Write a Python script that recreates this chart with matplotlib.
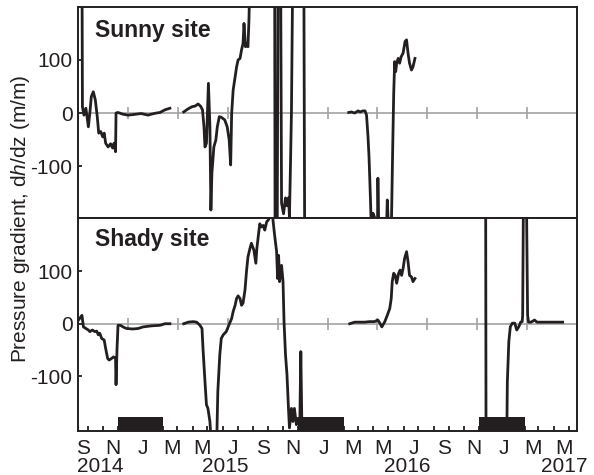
import matplotlib
matplotlib.use("Agg")
import matplotlib.pyplot as plt
import matplotlib.dates as mdates
import matplotlib.ticker as mticker
import matplotlib.transforms as mtransforms
import numpy as np
import pandas as pd

plt.rcParams["font.family"] = ["Liberation Sans", "DejaVu Sans"]
plt.rcParams["axes.unicode_minus"] = False
plt.rcParams["mathtext.fontset"] = "custom"
plt.rcParams["mathtext.rm"] = "Liberation Sans"
plt.rcParams["mathtext.it"] = "Liberation Sans:italic"

# ---------------------------------------------------------------------------
# Data (+/-300 means off scale)
# ---------------------------------------------------------------------------
sunny_2014_dates = ["2014-08-20", "2014-08-21", "2014-08-24", "2014-08-28", "2014-09-02",
                    "2014-09-05", "2014-09-08", "2014-09-12", "2014-09-16", "2014-09-20",
                    "2014-09-23", "2014-09-27", "2014-10-01", "2014-10-04", "2014-10-07",
                    "2014-10-12", "2014-10-17", "2014-10-21", "2014-10-24", "2014-10-27",
                    "2014-10-28", "2014-11-01", "2014-11-10", "2014-11-21", "2014-12-01",
                    "2014-12-18", "2015-01-01", "2015-01-08", "2015-01-18", "2015-01-25",
                    "2015-02-04", "2015-02-14"]
sunny_2014_vals = [300, 12, -4, 9, -26, 0, 31, 40, 25, -7,
                   -38, -35, -45, -38, -57, -64, -58, -66, -57, -73,
                   0, 1, -2, -4, -3, -1, -4, -2, 0, 1,
                   6, 9]

sunny_2015_dates = ["2015-03-14", "2015-03-20", "2015-03-25", "2015-03-31", "2015-04-06",
                    "2015-04-12", "2015-04-17", "2015-04-21", "2015-04-24", "2015-04-26",
                    "2015-04-29", "2015-05-03", "2015-05-06", "2015-05-08", "2015-05-10",
                    "2015-05-14", "2015-05-18", "2015-05-21", "2015-05-25", "2015-05-29",
                    "2015-06-05", "2015-06-10", "2015-06-14", "2015-06-17", "2015-06-19",
                    "2015-06-22", "2015-06-26", "2015-06-29", "2015-07-02", "2015-07-06",
                    "2015-07-09", "2015-07-12", "2015-07-14", "2015-07-17", "2015-07-19",
                    "2015-07-22", "2015-07-24", "2015-07-27", "2015-09-14", "2015-09-15",
                    "2015-09-19", "2015-09-21", "2015-09-26", "2015-09-28", "2015-10-02",
                    "2015-10-06", "2015-10-09", "2015-10-12", "2015-10-14", "2015-10-16",
                    "2015-10-18", "2015-10-19", "2015-10-21", "2015-11-12", "2015-11-14",
                    "2015-11-20"]
sunny_2015_vals = [2, 6, 9, 12, 13, 17, 13, 6, -26, -64,
                   -57, 56, -26, -183, -114, -64, -51, -26, -7, -8,
                   -13, -26, -51, -98, -1, 43, 68, 87, 100, 103,
                   119, 131, 169, 125, 131, 125, 175, 300, 300, -300,
                   -300, 300, 300, -170, -190, -160, -175, -160, -195, -100,
                   0, 100, 300, 300, -300, -300]

sunny_2016_dates = ["2016-02-11", "2016-02-16", "2016-02-23", "2016-03-01", "2016-03-05",
                    "2016-03-11", "2016-03-15", "2016-03-18", "2016-03-21", "2016-03-23",
                    "2016-03-26", "2016-03-28", "2016-03-31", "2016-04-03", "2016-04-07",
                    "2016-04-09", "2016-04-10", "2016-04-12", "2016-04-27", "2016-04-29",
                    "2016-05-02", "2016-05-07", "2016-05-10", "2016-05-12", "2016-05-14",
                    "2016-05-16", "2016-05-18", "2016-05-21", "2016-05-24", "2016-05-27",
                    "2016-05-31", "2016-06-04", "2016-06-07", "2016-06-10", "2016-06-13",
                    "2016-06-17", "2016-06-20", "2016-06-24"]
sunny_2016_vals = [1, 2, 0, 4, 2, 4, 4, -4, -45, -82,
                   -164, -230, -189, -196, -230, -230, -123, -230, -230, -164,
                   -230, -230, -64, 37, 97, 78, 94, 103, 94, 106,
                   113, 135, 138, 113, 94, 81, 87, 103]

shady_2014_dates = ["2014-08-13", "2014-08-20", "2014-08-23", "2014-08-28", "2014-09-02",
                    "2014-09-05", "2014-09-10", "2014-09-15", "2014-09-19", "2014-09-22",
                    "2014-09-25", "2014-09-29", "2014-10-04", "2014-10-07", "2014-10-11",
                    "2014-10-14", "2014-10-19", "2014-10-23", "2014-10-27", "2014-10-28",
                    "2014-10-30", "2014-11-01", "2014-11-06", "2014-11-11", "2014-11-18",
                    "2014-12-01", "2014-12-12", "2014-12-22", "2015-01-08", "2015-01-25",
                    "2015-02-04", "2015-02-14"]
shady_2014_vals = [7, 16, -6, -9, -12, -15, -12, -15, -14, -21,
                   -18, -28, -31, -47, -66, -69, -66, -63, -66, -116,
                   -47, -3, -3, -6, -9, -10, -9, -6, -4, -3,
                   0, 0]

shady_2015_dates = ["2015-03-14", "2015-03-23", "2015-04-02", "2015-04-09", "2015-04-15",
                    "2015-04-20", "2015-04-22", "2015-04-26", "2015-04-29", "2015-05-02",
                    "2015-05-06", "2015-05-08", "2015-05-20", "2015-05-22", "2015-05-26",
                    "2015-05-29", "2015-06-02", "2015-06-08", "2015-06-15", "2015-06-19",
                    "2015-06-22", "2015-06-26", "2015-06-29", "2015-07-02", "2015-07-06",
                    "2015-07-09", "2015-07-12", "2015-07-16", "2015-07-19", "2015-07-22",
                    "2015-07-26", "2015-07-29", "2015-08-03", "2015-08-07", "2015-08-09",
                    "2015-08-13", "2015-08-15", "2015-08-18", "2015-08-22", "2015-08-25",
                    "2015-08-29", "2015-09-01", "2015-09-04", "2015-09-09", "2015-09-11",
                    "2015-09-14", "2015-09-18", "2015-09-20", "2015-09-22", "2015-09-24",
                    "2015-09-28", "2015-10-01", "2015-10-03", "2015-10-06", "2015-10-09",
                    "2015-10-12", "2015-10-14", "2015-10-18", "2015-10-21", "2015-10-24",
                    "2015-10-28", "2015-10-31", "2015-11-04", "2015-11-06", "2015-11-08",
                    "2015-11-12", "2015-11-17", "2015-11-24", "2015-12-10", "2015-12-28",
                    "2016-01-15", "2016-01-28"]
shady_2015_vals = [0, 3, 4, 3, -2, -9, -47, -110, -154, -161,
                   -186, -215, -215, -129, -59, -28, -21, -15, 1, 10,
                   23, 35, 48, 53, 48, 35, 39, 64, 99, 127,
                   143, 153, 140, 115, 143, 175, 190, 184, 187, 178,
                   194, 197, 203, 215, 194, 168, 137, 86, 130, 80,
                   111, 80, 4, -59, -97, -161, -198, -161, -186, -161,
                   -192, -180, -186, -53, -186, -180, -186, -183, -190, -185,
                   -192, -188]

shady_2016_dates = ["2016-02-13", "2016-02-23", "2016-03-04", "2016-03-14", "2016-03-24",
                    "2016-04-03", "2016-04-10", "2016-04-14", "2016-04-18", "2016-04-24",
                    "2016-04-29", "2016-05-04", "2016-05-07", "2016-05-09", "2016-05-12",
                    "2016-05-15", "2016-05-18", "2016-05-22", "2016-05-25", "2016-05-28",
                    "2016-05-31", "2016-06-03", "2016-06-07", "2016-06-10", "2016-06-13",
                    "2016-06-17", "2016-06-20", "2016-06-24"]
shady_2016_vals = [0, 3, 3, 3, 4, 4, 7, 1, -6, 4,
                   16, 29, 48, 80, 96, 92, 77, 96, 102, 92,
                   105, 124, 137, 118, 92, 89, 80, 86]

shady_2017_dates = ["2016-11-14", "2016-11-15", "2016-12-26", "2016-12-28", "2016-12-31",
                    "2017-01-03", "2017-01-07", "2017-01-12", "2017-01-16", "2017-01-20",
                    "2017-01-24", "2017-01-27", "2017-01-28", "2017-01-30", "2017-02-04",
                    "2017-02-07", "2017-02-09", "2017-02-14", "2017-02-21", "2017-02-26",
                    "2017-03-10", "2017-03-24", "2017-04-06", "2017-04-19"]
shady_2017_vals = [300, -300, -300, -110, -34, -6, 1, 1, -12, -6,
                   3, 4, 16, 300, 300, 16, 3, 3, 7, 3,
                   3, 3, 3, 3]

# frozen periods (black bars on the time axis)
winter_starts = ["2014-11-01", "2015-11-01", "2016-11-01"]
winter_ends = ["2015-02-01", "2016-02-01", "2017-02-01"]

panel_titles = ["Sunny site", "Shady site"]
title_heights = [0.859, 0.870]
y_ticks = [-100, 0, 100]
year_labels = ["2014", "2015", "2016", "2017"]
year_label_dates = ["2014-09-27", "2015-06-07", "2016-06-09", "2017-04-23"]
x_start, x_end = "2014-08-12", "2017-05-18"

LINE = "#231f20"
GREY = "#a3a3a3"


def _draw_panel(ax, segments, title, title_y, ylim):
    ax.axhline(0, color=GREY, lw=1.2, zorder=1)
    marks = pd.date_range(x_start, x_end, periods=11)
    ax.plot(marks, np.zeros(len(marks)), ls="none", marker="|", ms=9,
            mew=1.2, color=GREY, zorder=1, clip_on=False)
    for dates, vals in segments:
        ax.plot(pd.to_datetime(dates), vals, color=LINE, lw=2.0,
                solid_joinstyle="round", zorder=3)
    ax.set_ylim(ylim)
    ax.set_yticks(y_ticks)
    ax.set_yticklabels([str(v) for v in y_ticks])
    ax.tick_params(axis="y", direction="in", length=3, width=1.3,
                   labelsize=15, pad=4, colors=LINE)
    for s in ax.spines.values():
        s.set_linewidth(1.4)
        s.set_color(LINE)
    ax.text(0.034, title_y, title, transform=ax.transAxes,
            fontsize=16.5, fontweight="bold", va="baseline", ha="left", color=LINE)


fig = plt.figure(figsize=(5.94, 4.75), dpi=100)
ax_top = fig.add_axes([0.1313, 0.5411, 0.8401, 0.4442])
ax_bot = fig.add_axes([0.1313, 0.0926, 0.8401, 0.4484], sharex=ax_top)

_draw_panel(ax_top,
            [(sunny_2014_dates, sunny_2014_vals),
             (sunny_2015_dates, sunny_2015_vals),
             (sunny_2016_dates, sunny_2016_vals)],
            panel_titles[0], title_heights[0], (-198, 200))
_draw_panel(ax_bot,
            [(shady_2014_dates, shady_2014_vals),
             (shady_2015_dates, shady_2015_vals),
             (shady_2016_dates, shady_2016_vals),
             (shady_2017_dates, shady_2017_vals)],
            panel_titles[1], title_heights[1], (-204, 201))

for start, end in zip(winter_starts, winter_ends):
    ax_bot.axvspan(pd.Timestamp(start), pd.Timestamp(end), ymin=0, ymax=0.066,
                   color=LINE, lw=0, zorder=4)

ax_top.set_xlim(pd.Timestamp(x_start), pd.Timestamp(x_end))
ax_top.tick_params(axis="x", bottom=False, labelbottom=False)

ax_bot.xaxis.set_major_locator(mdates.MonthLocator())
ax_bot.xaxis.set_major_formatter(mticker.FuncFormatter(
    lambda v, pos: mdates.num2date(v).strftime("%b")[0]
    if mdates.num2date(v).month % 2 else ""))
ax_bot.tick_params(axis="x", direction="in", length=3.6, width=1.3,
                   labelsize=15, pad=6, colors=LINE)

for label, date in zip(year_labels, year_label_dates):
    ax_bot.text(pd.Timestamp(date), -0.12, label, transform=ax_bot.get_xaxis_transform(),
                ha="center", va="top", fontsize=15, color=LINE, clip_on=False)

fig.text(0.034, 0.539, "Pressure gradient, d$h$/dz (m/m)", rotation=90,
         ha="center", va="center", fontsize=15, color=LINE)

# month letters sit a few pixels left of their ticks in the original
fig.canvas.draw()
shift = mtransforms.ScaledTranslation(-5 / 100, 0, fig.dpi_scale_trans)
for tick in ax_bot.xaxis.get_major_ticks():
    tick.label1.set_transform(tick.label1.get_transform() + shift)

fig.savefig("out.png", dpi=100)
